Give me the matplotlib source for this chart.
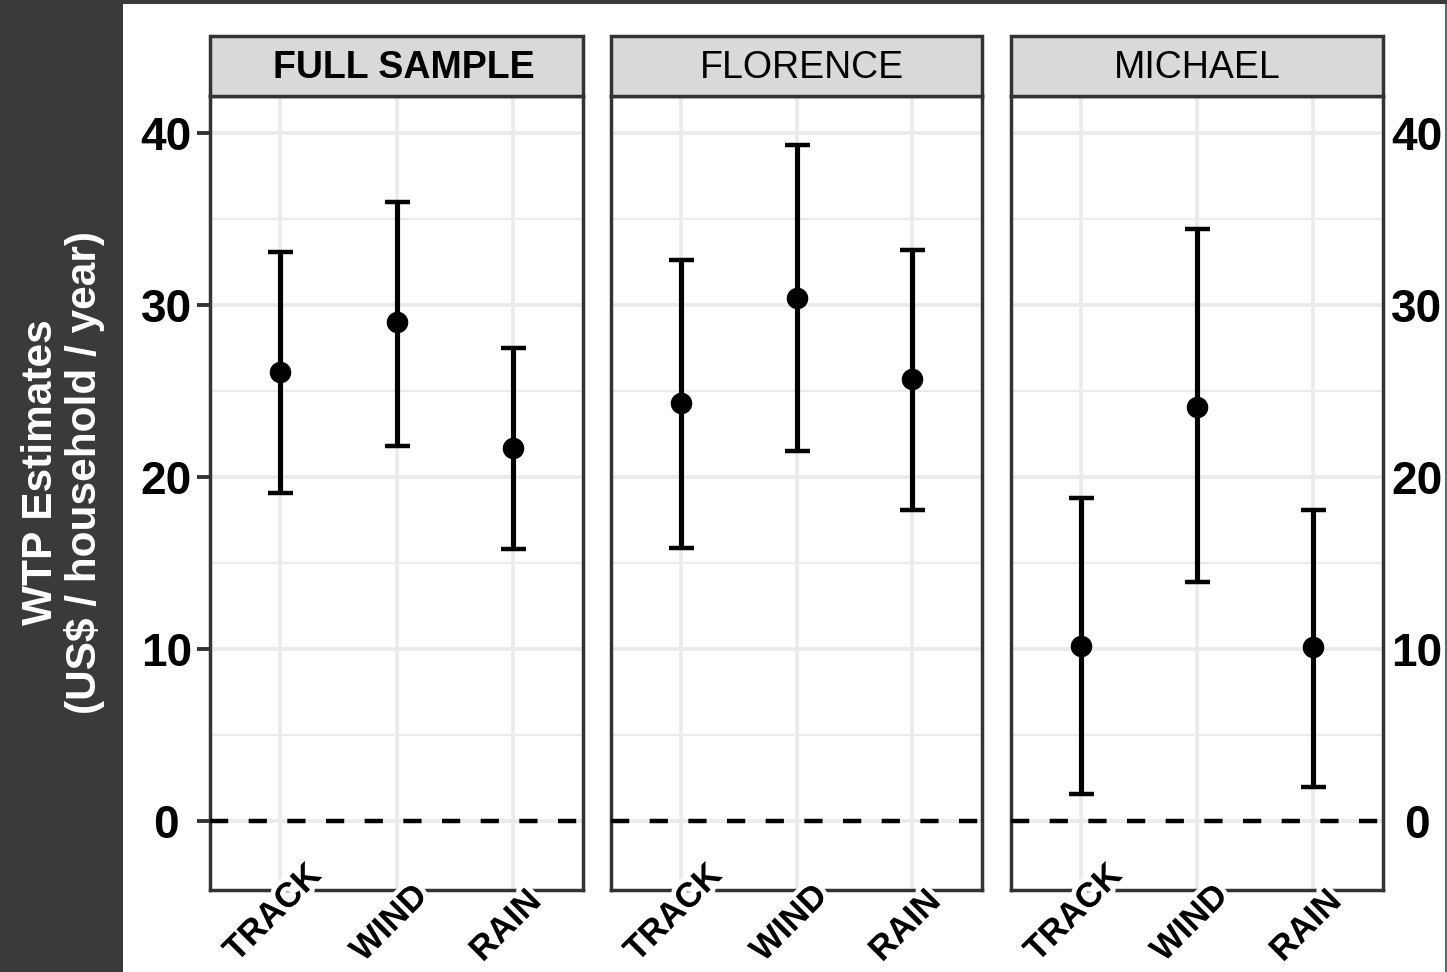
import matplotlib
matplotlib.use("Agg")
import matplotlib.pyplot as plt
import matplotlib.patheffects as pe
from matplotlib.patches import Rectangle
from matplotlib.transforms import ScaledTranslation
import numpy as np

plt.rcParams['font.family'] = ['Liberation Sans', 'DejaVu Sans']

# 数据
categories = ['TRACK', 'WIND', 'RAIN']
panels = ['FULL SAMPLE', 'FLORENCE', 'MICHAEL']
estimates = [[26.1, 29.0, 21.7],
             [24.3, 30.4, 25.7],
             [10.2, 24.1, 10.1]]
upper = [[33.1, 36.0, 27.5],
         [32.6, 39.3, 33.2],
         [18.8, 34.4, 18.1]]
lower = [[19.1, 21.8, 15.8],
         [15.9, 21.5, 18.1],
         [1.6, 13.9, 2.0]]
yticks = [0, 10, 20, 30, 40]

W, H = 1447, 972
fig = plt.figure(figsize=(W / 100, H / 100), dpi=100)
fig.patch.set_facecolor('#3a3a3a')
# 白色背景区域
fig.patches.append(Rectangle((123 / W, 0), (1445 - 123) / W, 1 - 4 / H,
                             transform=fig.transFigure, facecolor='white',
                             edgecolor='none', zorder=-2))
fig.patches.append(Rectangle((1445 / W, 0), 2 / W, 1 - 4 / H,
                             transform=fig.transFigure, facecolor='#2f7f7f',
                             edgecolor='none', zorder=-2))

lefts = [210, 611, 1011]
widths = [373, 371, 372]
strip_dx = [0.07, 0.05, 0.0]   # 标题文字的水平偏移 (英寸)
ax_bottom, ax_top = 890, 96
strip_h = 60
dark = '#333333'

for k, name in enumerate(panels):
    ax = fig.add_axes([lefts[k] / W, (H - ax_bottom) / H, widths[k] / W, (ax_bottom - ax_top) / H])
    ax.set_facecolor('white')
    x = np.arange(1, len(categories) + 1)
    est = np.array(estimates[k])
    yerr = [est - np.array(lower[k]), np.array(upper[k]) - est]
    ax.errorbar(x, est, yerr=yerr, fmt='o', color='black', ms=14.5, elinewidth=3.7,
                capsize=9, capthick=3.2, zorder=4)
    ax.axhline(0, color='black', lw=3.2, dashes=(4.1, 4.6), zorder=3)

    ax.set_xlim(0.4, 3.6)
    ax.set_ylim(-4.0, 42.15)
    ax.set_yticks(yticks)
    ax.set_yticks([5, 15, 25, 35], minor=True)
    ax.set_xticks(x)
    ax.grid(True, which='major', color='#ebebeb', lw=2.8, zorder=0)
    ax.grid(True, which='minor', axis='y', color='#ebebeb', lw=1.6, zorder=0)
    ax.set_axisbelow(True)
    for s in ax.spines.values():
        s.set_color(dark)
        s.set_linewidth(2.5)

    ax.set_xticklabels([])
    ax.tick_params(axis='x', length=0)
    for xi, cat in zip(x, categories):
        ax.text(xi - 0.06, -0.098, cat, transform=ax.get_xaxis_transform(),
                rotation=45, ha='center', va='bottom', fontsize=25, fontweight='bold',
                zorder=6, clip_on=False,
                path_effects=[pe.withStroke(linewidth=7, foreground='white')])
    ax.tick_params(axis='y', which='minor', length=0)

    if k == 0:
        ax.set_yticklabels([str(v) for v in yticks], fontsize=33, fontweight='bold', ha='center')
        ax.tick_params(axis='y', which='major', length=9.5, width=2.8, color=dark, pad=22)
    elif k == 2:
        ax.yaxis.tick_right()
        ax.set_yticklabels([str(v) for v in yticks], fontsize=33, fontweight='bold', ha='center')
        ax.tick_params(axis='y', which='major', length=0, pad=24.5)
    else:
        ax.tick_params(axis='y', which='major', length=0, labelleft=False)

    # 面板标题条
    sh = strip_h / (ax_bottom - ax_top)
    ax.add_patch(Rectangle((0, 1), 1, sh, transform=ax.transAxes, facecolor='#d9d9d9',
                           edgecolor=dark, lw=2.5, clip_on=False, zorder=5))
    ax.text(0.5, 1 + sh / 2, name, ha='center', va='center',
            transform=ax.transAxes + ScaledTranslation(strip_dx[k], -0.02, fig.dpi_scale_trans),
            fontsize=27, fontweight='bold' if k == 0 else 'normal', color='black', zorder=6)

fig.text(63 / W, 1 - 472 / H, 'WTP Estimates\n(US$ / household / year)', rotation=90,
         ha='center', va='center', color='white', fontsize=30.5, fontweight='bold',
         linespacing=1.12)

fig.savefig('out.png', dpi=100, facecolor=fig.get_facecolor())
